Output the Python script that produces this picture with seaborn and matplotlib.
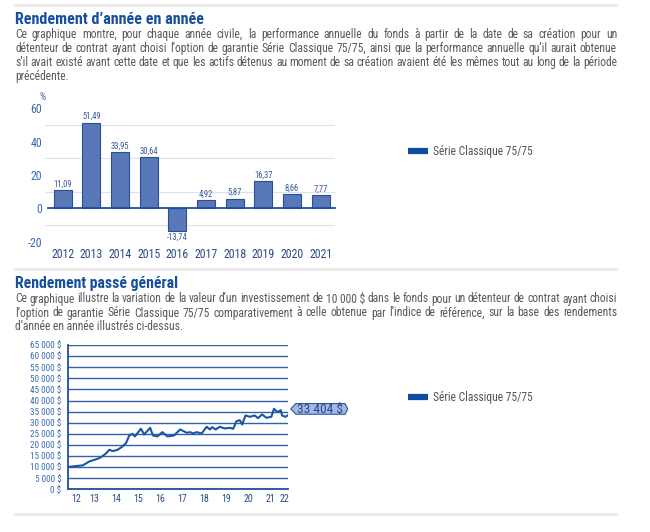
import numpy as np
import pandas as pd
import matplotlib
matplotlib.use("Agg")
import matplotlib.pyplot as plt
import seaborn as sns
from matplotlib import font_manager as fm
from matplotlib.path import Path
from matplotlib.lines import Line2D
from matplotlib.transforms import IdentityTransform
from matplotlib.ticker import FixedLocator, FuncFormatter, NullFormatter, FixedFormatter

# ---------------- data ----------------
YEARS = ["2012", "2013", "2014", "2015", "2016", "2017", "2018", "2019", "2020", "2021"]
RETURNS = [11.09, 51.49, 33.95, 30.64, -13.74, 4.92, 5.87, 16.37, 8.66, 7.77]
SERIES = "Série Classique 75/75"

LINE_X = [2012.27, 2012.58, 2012.95, 2013.26, 2013.64, 2013.79, 2014.00, 2014.17, 2014.32,
          2014.55, 2014.77, 2014.93, 2015.08, 2015.23, 2015.34, 2015.43, 2015.61, 2015.76,
          2016.03, 2016.16, 2016.36, 2016.59, 2016.82, 2017.12, 2017.40, 2017.55, 2017.70,
          2017.85, 2018.00, 2018.15, 2018.38, 2018.61, 2018.76, 2018.86, 2019.02, 2019.21,
          2019.44, 2019.67, 2019.82, 2019.97, 2020.12, 2020.23, 2020.38, 2020.58, 2020.80,
          2020.95, 2021.14, 2021.34, 2021.56, 2021.68, 2021.84, 2021.99, 2022.05, 2022.20,
          2022.32]
LINE_V = [10000, 10400, 10750, 12550, 13750, 14500, 16000, 17800, 17200,
          17800, 19300, 20800, 24250, 25000, 23800, 25000, 27250, 24700,
          27700, 24250, 23800, 25750, 23800, 24250, 26950, 26200, 25450,
          25750, 25150, 25750, 25150, 28150, 26950, 28000, 26950, 28150,
          27400, 27700, 27250, 30700, 31150, 29200, 33250, 32650, 33250,
          32050, 33700, 32200, 32650, 36250, 34750, 35650, 33250, 32650,
          33404]
FINAL_LABEL = "33 404 $"
YEAR_TICKS = [2013, 2014, 2015, 2016, 2017, 2018, 2019, 2020, 2021, 2022]
YEAR_LABEL_POS = [2012.64, 2013.5, 2014.5, 2015.5, 2016.5, 2017.5, 2018.5, 2019.5, 2020.5, 2021.5, 2022.16]
YEAR_LABELS = ["12", "13", "14", "15", "16", "17", "18", "19", "20", "21", "22"]

TITLE1 = "Rendement d’année en année"
BODY1 = [
    "Ce graphique montre, pour chaque année civile, la performance annuelle du fonds à partir de la date de sa création pour un",
    "détenteur de contrat ayant choisi l’option de garantie Série Classique 75/75, ainsi que la performance annuelle qu’il aurait obtenue",
    "s’il avait existé avant cette date et que les actifs détenus au moment de sa création avaient été les mêmes tout au long de la période",
    "précédente.",
]
TITLE2 = "Rendement passé général"
BODY2 = [
    "Ce graphique illustre la variation de la valeur d’un investissement de 10\u00a0000\u00a0$ dans le fonds pour un détenteur de contrat ayant choisi",
    "l’option de garantie Série Classique 75/75 comparativement à celle obtenue par l’indice de référence, sur la base des rendements",
    "d’année en année illustrés ci-dessus.",
]

# ---------------- style ----------------
def font_ok(fam, stretch=None):
    try:
        p = fm.FontProperties(family=fam) if stretch is None else fm.FontProperties(family=fam, stretch=stretch)
        f = fm.findfont(p, fallback_to_default=False)
        return f
    except Exception:
        return None

NARROW = None
for fam in ["Liberation Sans Narrow", "Roboto Condensed", "Open Sans Condensed"]:
    if font_ok(fam):
        NARROW = fam
        break
if NARROW is None:
    NARROW = "Liberation Sans"

sns.set_style("white")
plt.rcParams["font.family"] = [NARROW, "DejaVu Sans"]

W, H = 650, 532
BLUE_T = "#174f9e"
GRAY_T = "#595959"
AX_BLUE = "#1f4f9c"
TICK_BLUE = "#3a6ab4"
YEAR_COL = "#2b4b87"
BAR_FILL = "#5878ba"
BAR_EDGE = "#2c4e92"
LINE_COL = "#1a56a3"
LEG_COL = "#0f4e9e"

fig = plt.figure(figsize=(6.5, 5.32), dpi=100)
renderer = fig.canvas.get_renderer()


def fx(x):
    return x / W


def fy(y):
    return 1 - y / H


# separators
for ysep in (5, 268.5, 514):
    fig.add_artist(Line2D([fx(15), fx(616)], [fy(ysep)] * 2, transform=fig.transFigure,
                          color="#ebebeb", lw=2.2))


def width_of(t):
    return t.get_window_extent(renderer).width


def fit_text(s, x, yb, target_w, **kw):
    t = fig.text(x, H - yb, s, transform=IdentityTransform(), va="baseline", ha="left", fontsize=10, **kw)
    w = width_of(t)
    t.set_fontsize(10 * target_w / w)
    return t


def justify(s, x0, x1, yb, size, **kw):
    words = s.split(" ")
    ts = [fig.text(0, 0, wd, transform=IdentityTransform(), va="baseline", ha="left",
                   fontsize=size, **kw) for wd in words]
    ws = [width_of(t) for t in ts]
    gap = (x1 - x0 - sum(ws)) / (len(words) - 1)
    x = x0
    for t, w in zip(ts, ws):
        t.set_position((x, H - yb))
        x += w + gap


# titles
fit_text(TITLE1, 15, 24, 188, color=BLUE_T, fontweight="bold")
fit_text(TITLE2, 15, 288, 162, color=BLUE_T, fontweight="bold")

# body size fitted on the last (ragged) line of the second block
probe = fig.text(0, 0, BODY2[-1], transform=IdentityTransform(), fontsize=10)
BODY_SIZE = 10 * 167 / width_of(probe)
probe.remove()

for i, line in enumerate(BODY1):
    yb = 38 + 14 * i
    if i < len(BODY1) - 1:
        justify(line, 15, 617, yb, BODY_SIZE, color=GRAY_T)
    else:
        fig.text(15, H - yb, line, transform=IdentityTransform(), va="baseline", ha="left",
                 fontsize=BODY_SIZE, color=GRAY_T)
for i, line in enumerate(BODY2):
    yb = 302.5 + 14 * i
    if i < len(BODY2) - 1:
        justify(line, 15, 617, yb, BODY_SIZE, color=GRAY_T)
    else:
        fig.text(15, H - yb, line, transform=IdentityTransform(), va="baseline", ha="left",
                 fontsize=BODY_SIZE, color=GRAY_T)

# ---------------- bar chart ----------------
ax1 = fig.add_axes([fx(45), fy(250), (335 - 45) / W, 150 / H])
df_bar = pd.DataFrame({"year": YEARS, "ret": RETURNS})
sns.barplot(data=df_bar, x="year", y="ret", ax=ax1, color=BAR_FILL, edgecolor=BAR_EDGE,
            linewidth=0.8, width=0.62, saturation=1)
ax1.set_xlim(-0.615, 9.5)
ax1.set_ylim(-25, 65)
ax1.set_xlabel("")
ax1.set_ylabel("")
ax1.set_axisbelow(True)
for s in ("top", "right", "left"):
    ax1.spines[s].set_visible(False)
ax1.spines["bottom"].set_position(("data", 0))
ax1.spines["bottom"].set_bounds(-0.5, 9.5)
ax1.spines["bottom"].set_color(AX_BLUE)
ax1.spines["bottom"].set_linewidth(1.3)
ax1.spines["bottom"].set_zorder(5)
ax1.xaxis.set_minor_locator(FixedLocator(np.arange(-0.5, 9.6, 1.0)))
ax1.tick_params(axis="x", which="minor", length=7, width=1.0, direction="inout", color=AX_BLUE)
ax1.tick_params(axis="x", which="major", length=0, pad=28.5, labelsize=8.6, labelcolor=YEAR_COL)
ax1.yaxis.set_major_locator(FixedLocator([-20, 0, 20, 40, 60]))
ax1.yaxis.set_major_formatter(FixedFormatter(["-20", "0", "20", "40", "60"]))
ax1.yaxis.set_minor_locator(FixedLocator([-10, 10, 20, 30, 40, 50, 60]))
ax1.tick_params(axis="y", which="both", length=0, pad=2, labelsize=8.6, labelcolor=TICK_BLUE)
ax1.grid(False)
ax1.yaxis.grid(True, which="minor", color="#dde3ee", lw=0.9)
ax1.bar_label(ax1.containers[0], labels=[f"{v:.2f}".replace(".", ",") for v in RETURNS],
              padding=1, fontsize=6.2, color="#3b5a98")
fig.text(fx(43), fy(97), "%", ha="center", va="center", fontsize=7, color=TICK_BLUE)

# legend top
leg_handle = Line2D([], [], color=LEG_COL, lw=4.5, solid_capstyle="butt")
fig.legend([leg_handle], [SERIES], loc="center left", bbox_to_anchor=(fx(408), fy(152)),
           frameon=False, fontsize=8.3, handlelength=1.7, handletextpad=0.5,
           borderpad=0, borderaxespad=0, labelcolor="#555555")

# ---------------- line chart ----------------
ax2 = fig.add_axes([fx(67.7), fy(489.3), (288 - 67.7) / W, 144.3 / H])
df_line = pd.DataFrame({"t": LINE_X, "v": LINE_V})
sns.lineplot(data=df_line, x="t", y="v", ax=ax2, color=LINE_COL, lw=1.5, zorder=4)
ax2.set_xlim(LINE_X[0], LINE_X[-1])
ax2.set_ylim(0, 65000)
ax2.set_xlabel("")
ax2.set_ylabel("")
for s in ("top", "right"):
    ax2.spines[s].set_visible(False)
for s in ("left", "bottom"):
    ax2.spines[s].set_color(AX_BLUE)
    ax2.spines[s].set_linewidth(1.3)
    ax2.spines[s].set_zorder(5)
ax2.yaxis.set_major_locator(FixedLocator(list(range(0, 65001, 5000))))
ax2.yaxis.set_major_formatter(FuncFormatter(lambda v, p: f"{int(v):,}".replace(",", " ") + " $"))
ax2.tick_params(axis="y", which="major", length=3, width=1.0, direction="out", color=AX_BLUE,
                pad=1.5, labelsize=6.6, labelcolor=TICK_BLUE)
ax2.xaxis.set_major_locator(FixedLocator(YEAR_TICKS))
ax2.xaxis.set_major_formatter(NullFormatter())
ax2.xaxis.set_minor_locator(FixedLocator(YEAR_LABEL_POS))
ax2.xaxis.set_minor_formatter(FixedFormatter(YEAR_LABELS))
ax2.tick_params(axis="x", which="major", length=6, width=1.0, direction="inout", color=AX_BLUE)
ax2.tick_params(axis="x", which="minor", length=0, pad=3.5, labelsize=7.2, labelcolor=YEAR_COL)
ax2.grid(False)
ax2.yaxis.grid(True, color="#3062aa", lw=1.0)
ax2.set_axisbelow(True)


class HexBox:
    def __init__(self, pad=0.12, tip=0.38, rtip=0.2, hfrac=0.80):
        self.pad, self.tip, self.rtip, self.hfrac = pad, tip, rtip, hfrac

    def __call__(self, x0, y0, width, height, mutation_size):
        pad = self.pad * mutation_size
        cy = y0 + height / 2
        h = self.hfrac * mutation_size / 2
        xl = x0 - pad
        xr = x0 + width + pad
        tl = self.tip * mutation_size
        tr = self.rtip * mutation_size
        verts = [(xl - tl, cy), (xl, cy - h), (xr, cy - h), (xr + tr, cy),
                 (xr, cy + h), (xl, cy + h), (xl - tl, cy)]
        codes = [Path.MOVETO] + [Path.LINETO] * 5 + [Path.CLOSEPOLY]
        return Path(verts, codes)


ax2.annotate(FINAL_LABEL, xy=(LINE_X[-1], LINE_V[-1]), xytext=(6.8, 4.5), textcoords="offset points",
             ha="left", va="center", fontsize=9.6, color="#1e4a94", annotation_clip=False,
             bbox=dict(boxstyle=HexBox(), fc="#a7b7e2", ec="#2a55a0", lw=0.8))

fig.legend([Line2D([], [], color=LEG_COL, lw=4.5, solid_capstyle="butt")], [SERIES],
           loc="center left", bbox_to_anchor=(fx(408), fy(398)),
           frameon=False, fontsize=8.3, handlelength=1.7, handletextpad=0.5,
           borderpad=0, borderaxespad=0, labelcolor="#555555")

fig.savefig("out.png", dpi=100, facecolor="white")
